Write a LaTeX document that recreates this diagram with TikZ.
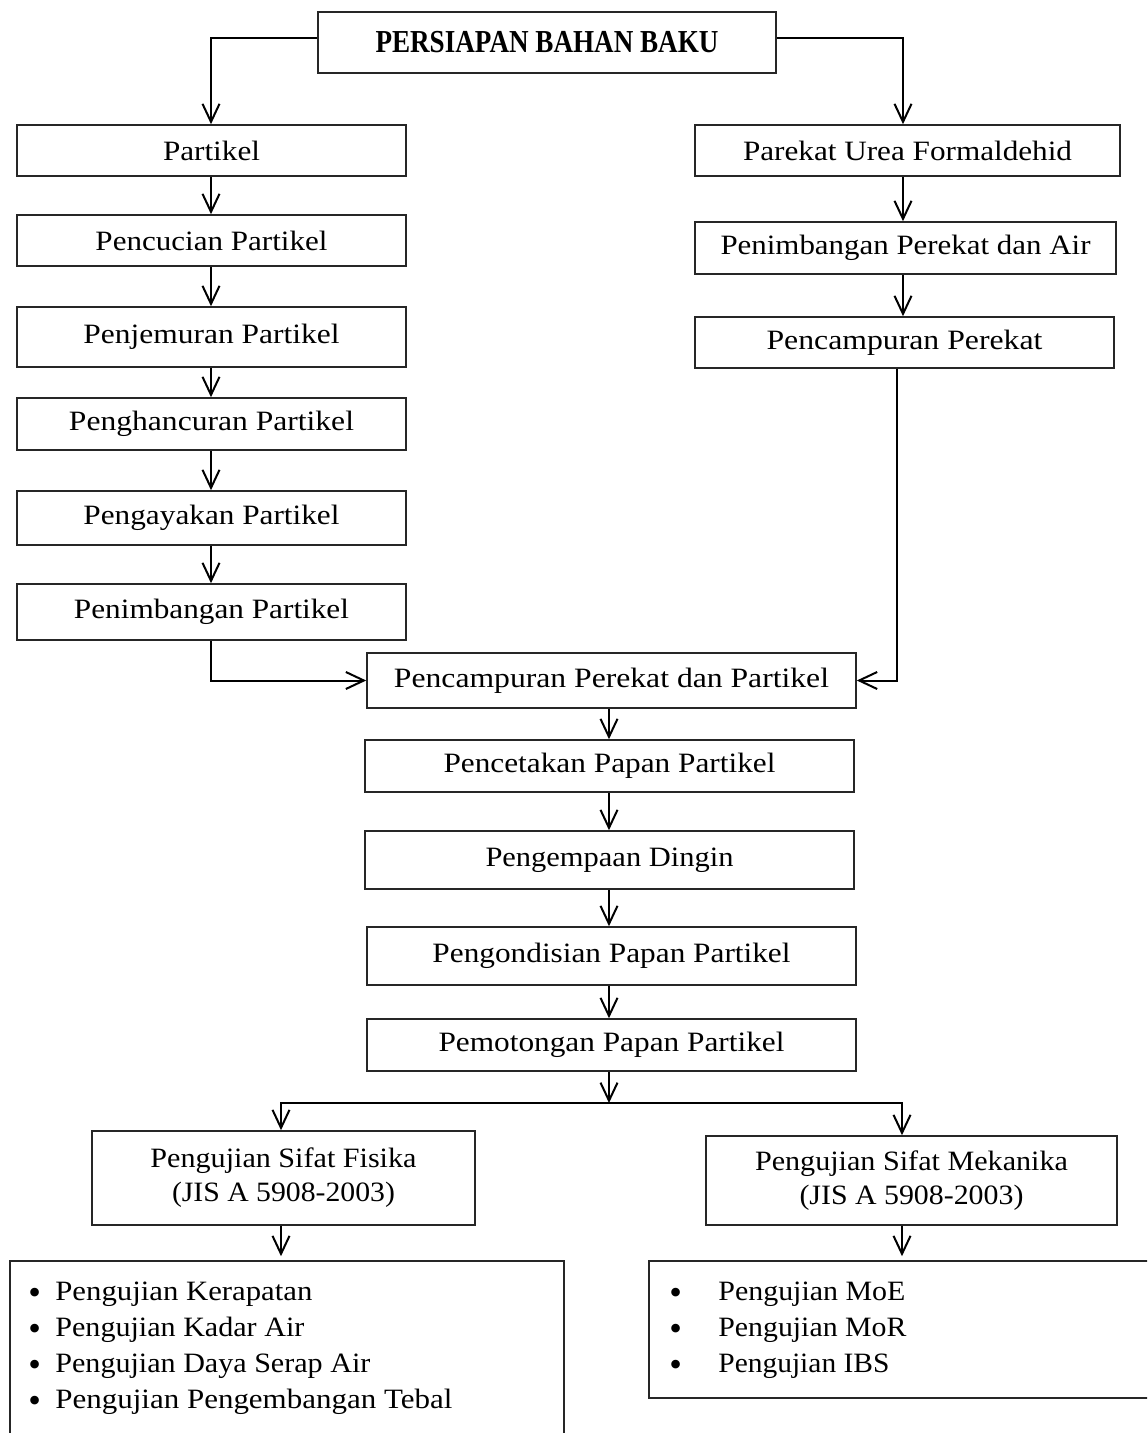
\documentclass[tikz,border=0pt]{standalone}
\usepackage{fontspec}
\setmainfont{Liberation Serif}
\usetikzlibrary{arrows.meta,calc}
\newcommand\fw[2]{\resizebox{#1pt}{\height}{#2}}
\newcommand\bul{\raisebox{-2.2pt}{\fontsize{18}{18}\selectfont\textbullet}}
\begin{document}
\begin{tikzpicture}[x=0.5pt,y=-0.5pt,
  box/.style={draw=black!85, line width=0.8pt, inner sep=0pt, align=center,
    font=\fontsize{14}{17}\selectfont},
  item/.style={inner sep=0pt, anchor=base west, font=\fontsize{14}{17}\selectfont},
  arr/.style={line width=1pt, -{Straight Barb[length=9pt,width=8.5pt]}},
  ln/.style={line width=1pt}]
\useasboundingbox (0,0) rectangle (1147,1433);
\clip (0,0) rectangle (1147,1433);
\fill[white] (0,0) rectangle (1147,1433);

\coordinate (lx) at (211,0);
\coordinate (rx) at (903,0);
\coordinate (cx) at (609,0);
\coordinate (fx) at (281,0);
\coordinate (mx) at (902,0);
\coordinate (px) at (897,0);

% top
\node[box, minimum width=229pt, minimum height=30.5pt] (top) at (547,42.5)
  {\fontsize{16}{18}\selectfont\bfseries\fw{171.5}{PERSIAPAN BAHAN BAKU}};

% left column
\node[box, minimum width=194.5pt, minimum height=25.5pt] (p1) at (211.5,150.5) {\fw{48.5}{Partikel}};
\node[box, minimum width=194.5pt, minimum height=25.5pt] (p2) at (211.5,240.5) {\fw{116}{Pencucian Partikel}};
\node[box, minimum width=194.5pt, minimum height=30pt] (p3) at (211.5,337) {\fw{128}{Penjemuran Partikel}};
\node[box, minimum width=194.5pt, minimum height=26pt] (p4) at (211.5,424) {\fw{142.5}{Penghancuran Partikel}};
\node[box, minimum width=194.5pt, minimum height=27pt] (p5) at (211.5,518) {\fw{128}{Pengayakan Partikel}};
\node[box, minimum width=194.5pt, minimum height=28pt] (p6) at (211.5,612) {\fw{137.5}{Penimbangan Partikel}};

% right column
\node[box, minimum width=212.5pt, minimum height=25.5pt] (r1) at (907.5,150.5) {\fw{164.5}{Parekat Urea Formaldehid}};
\node[box, minimum width=210.5pt, minimum height=26pt] (r2) at (905.5,248) {\fw{185}{Penimbangan Perekat dan Air}};
\node[box, minimum width=209.5pt, minimum height=25.5pt] (r3) at (904.5,342.5) {\fw{138}{Pencampuran Perekat}};

% center column
\node[box, minimum width=244.5pt, minimum height=27.5pt] (c1) at (611.5,680.5) {\fw{217.5}{Pencampuran Perekat dan Partikel}};
\node[box, minimum width=244.5pt, minimum height=26pt] (c2) at (609.5,766) {\fw{166}{Pencetakan Papan Partikel}};
\node[box, minimum width=244.5pt, minimum height=29pt] (c3) at (609.5,860) {\fw{124}{Pengempaan Dingin}};
\node[box, minimum width=244.5pt, minimum height=29pt] (c4) at (611.5,956) {\fw{179}{Pengondisian Papan Partikel}};
\node[box, minimum width=244.5pt, minimum height=26pt] (c5) at (611.5,1045) {\fw{173}{Pemotongan Papan Partikel}};

% tests
\node[box, minimum width=191.5pt, minimum height=47pt] (f) at (283.5,1178)
  {\fw{133}{Pengujian Sifat Fisika}\\\fw{111.5}{(JIS A 5908-2003)}};
\node[box, minimum width=205.5pt, minimum height=44.5pt] (m) at (911.5,1180.5)
  {\fw{156.5}{Pengujian Sifat Mekanika}\\\fw{112}{(JIS A 5908-2003)}};

% lists
\node[box, minimum width=277pt, minimum height=94.5pt] (lfbox) at (287,1355.5) {};
\node[box, minimum width=255.5pt, minimum height=68.5pt] (rmbox) at (904.5,1329.5) {};

\node[item] (l1) at (28,1300) {\makebox[13.5pt][l]{\bul}\fw{128.5}{Pengujian Kerapatan}};
\node[item] (l2) at (28,1336) {\makebox[13.5pt][l]{\bul}\fw{124.5}{Pengujian Kadar Air}};
\node[item] (l3) at (28,1372) {\makebox[13.5pt][l]{\bul}\fw{157.5}{Pengujian Daya Serap Air}};
\node[item] (l4) at (28,1408) {\makebox[13.5pt][l]{\bul}\fw{198.5}{Pengujian Pengembangan Tebal}};

\node[item] (m1) at (669,1300) {\makebox[24.5pt][l]{\bul}\fw{93.5}{Pengujian MoE}};
\node[item] (m2) at (669,1336) {\makebox[24.5pt][l]{\bul}\fw{94}{Pengujian MoR}};
\node[item] (m3) at (669,1372) {\makebox[24.5pt][l]{\bul}\fw{85.5}{Pengujian IBS}};

% connectors
\draw[arr] ([yshift=2pt]top.west) -| (p1.north -| lx);
\draw[arr] ([yshift=2pt]top.east) -| (r1.north -| rx);

\draw[arr] (p1.south -| lx) -- (p2.north -| lx);
\draw[arr] (p2.south -| lx) -- (p3.north -| lx);
\draw[arr] (p3.south -| lx) -- (p4.north -| lx);
\draw[arr] (p4.south -| lx) -- (p5.north -| lx);
\draw[arr] (p5.south -| lx) -- (p6.north -| lx);

\draw[arr] (r1.south -| rx) -- (r2.north -| rx);
\draw[arr] (r2.south -| rx) -- (r3.north -| rx);

\draw[arr] (p6.south -| lx) |- (c1.west);
\draw[arr] (r3.south -| px) |- (c1.east);

\draw[arr] (c1.south -| cx) -- (c2.north -| cx);
\draw[arr] (c2.south -| cx) -- (c3.north -| cx);
\draw[arr] (c3.south -| cx) -- (c4.north -| cx);
\draw[arr] (c4.south -| cx) -- (c5.north -| cx);

\coordinate (sp) at (609,1103);
\draw[arr] (c5.south -| cx) -- (sp);
\draw[arr] (sp) -| (f.north -| fx);
\draw[arr] (sp) -| (m.north -| mx);

\draw[arr] (f.south -| fx) -- ([yshift=2pt]lfbox.north -| fx);
\draw[arr] (m.south -| mx) -- ([yshift=2pt]rmbox.north -| mx);
\end{tikzpicture}
\end{document}
